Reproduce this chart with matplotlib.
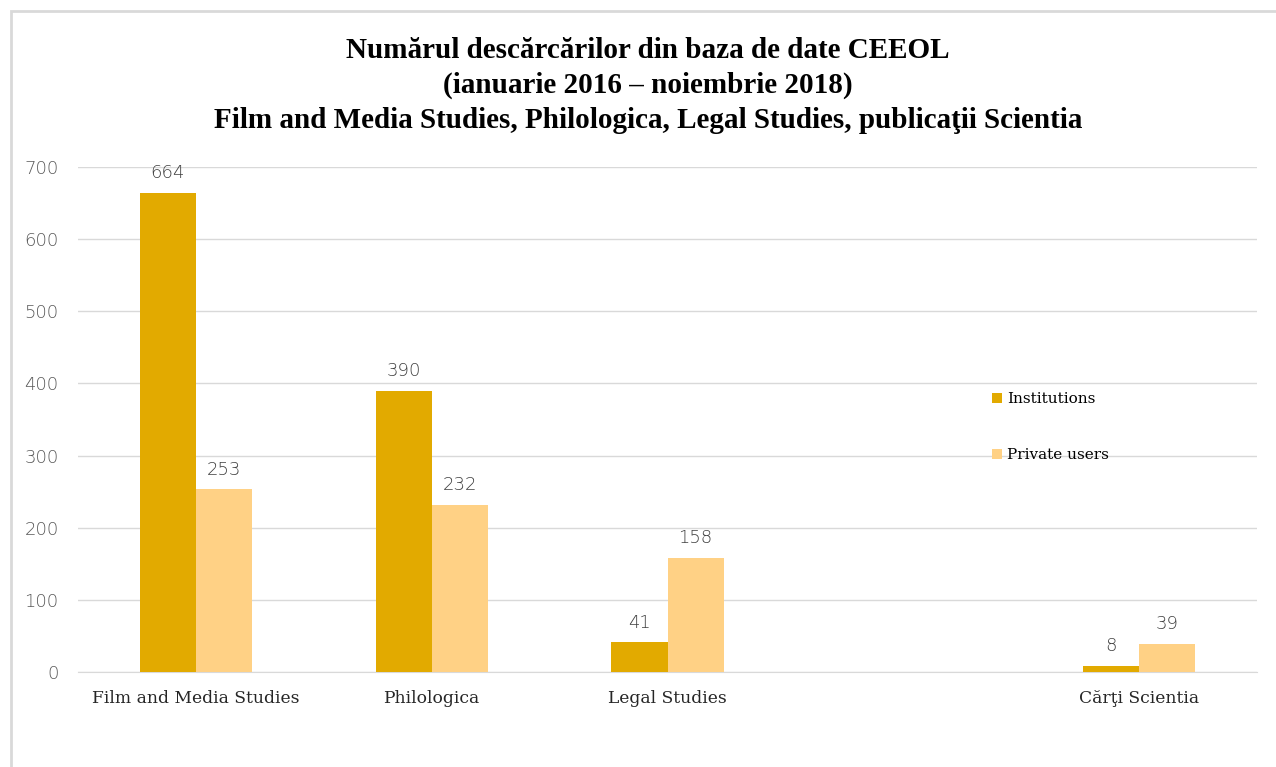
import matplotlib
matplotlib.use('Agg')
import matplotlib.pyplot as plt
import numpy as np
from matplotlib.patches import Rectangle

# date
categorii = ['Film and Media Studies', 'Philologica', 'Legal Studies', '', 'Cărţi Scientia']
institutii = [664, 390, 41, None, 8]
utilizatori_privati = [253, 232, 158, None, 39]
serii = ['Institutions', 'Private users']
culori = ['#E2AA00', '#FFD185']

titlu = ('Numărul descărcărilor din baza de date CEEOL\n'
         '(ianuarie 2016 – noiembrie 2018)\n'
         'Film and Media Studies, Philologica, Legal Studies, publicaţii Scientia')

fig = plt.figure(figsize=(12.76, 7.67), dpi=100)
fig.patch.set_facecolor('white')

# chenar gri (marginea graficului excel)
fig.add_artist(Rectangle((11 / 1276, -0.1), 1.2, (767 - 11) / 767 + 0.1,
                         transform=fig.transFigure, fill=False,
                         edgecolor='#D9D9D9', linewidth=2))

ax = fig.add_axes([78 / 1276, 1 - 672 / 767, (1257 - 78) / 1276, (672 - 167) / 767])

x = np.arange(len(categorii))
w = 0.2375
for i, (vals, nume, c) in enumerate(zip([institutii, utilizatori_privati], serii, culori)):
    idx = [k for k, v in enumerate(vals) if v is not None]
    v = [vals[k] for k in idx]
    pos = x[idx] + (i - 0.5) * w
    ax.bar(pos, v, w, color=c, label=nume, zorder=3)
    for xp, val in zip(pos, v):
        ax.text(xp, val + 15, str(val), ha='center', va='bottom',
                fontsize=13, color='#404040', family='DejaVu Sans',
                fontweight='light')

ax.set_xlim(-0.5, len(categorii) - 0.5)
ax.set_ylim(0, 700)
ax.set_yticks(np.arange(0, 701, 100))
ax.grid(axis='y', color='#D9D9D9', linewidth=1, zorder=0)
for s in ['top', 'right', 'left']:
    ax.spines[s].set_visible(False)
ax.spines['bottom'].set_color('#D9D9D9')
ax.tick_params(axis='both', length=0)
ax.tick_params(axis='y', pad=14, labelsize=13, labelcolor='#595959')
ax.tick_params(axis='x', pad=13)
ax.set_xticks(x)
ax.set_xticklabels(categorii, family='DejaVu Serif', fontsize=12.3, color='#262626')
for lab in ax.get_yticklabels():
    lab.set_family('DejaVu Sans')
    lab.set_fontweight('light')

leg = ax.legend(loc='upper left', bbox_to_anchor=(900 / 1179, 0.581), frameon=False,
                handlelength=0.7, handleheight=0.7, handletextpad=0.3,
                labelspacing=2.75, prop={'family': 'DejaVu Serif', 'size': 11})

fig.text(0.508, 1 - 37 / 767, titlu, ha='center', va='top', fontsize=21,
         fontweight='bold', family='Liberation Serif', linespacing=1.37)

fig.savefig('out.png', dpi=100)
plt.close()
